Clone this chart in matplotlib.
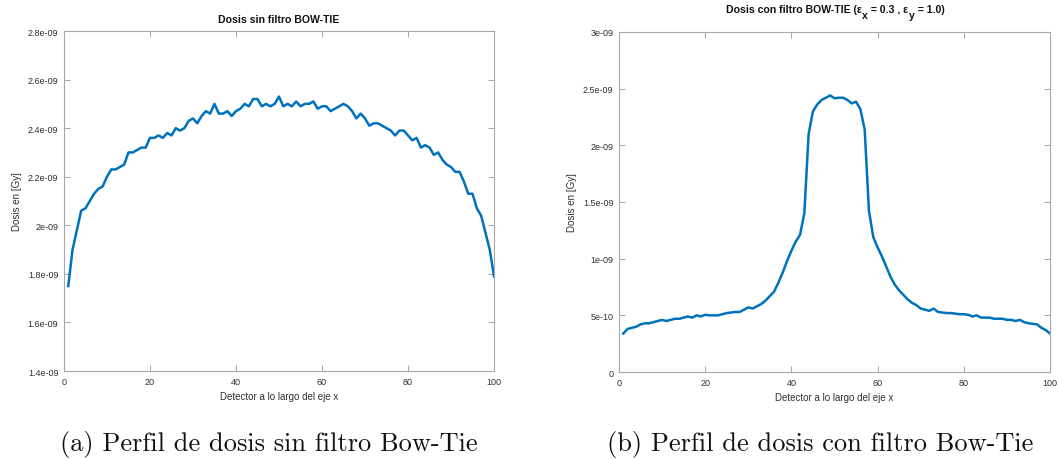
import matplotlib
matplotlib.use("Agg")
import matplotlib.pyplot as plt
import numpy as np

# detector positions 1..100
det = list(range(1, 101))

# dose without bow-tie filter, units of 1e-9 Gy
dose_sin = [1.75, 1.90, 1.98, 2.06, 2.07, 2.10, 2.13, 2.15, 2.16, 2.20,
            2.23, 2.23, 2.24, 2.25, 2.30, 2.30, 2.31, 2.32, 2.32, 2.36,
            2.36, 2.37, 2.36, 2.38, 2.37, 2.40, 2.39, 2.40, 2.43, 2.44,
            2.42, 2.45, 2.47, 2.46, 2.50, 2.46, 2.46, 2.47, 2.45, 2.47,
            2.48, 2.50, 2.49, 2.52, 2.52, 2.49, 2.50, 2.49, 2.50, 2.53,
            2.49, 2.50, 2.49, 2.51, 2.49, 2.50, 2.50, 2.51, 2.48, 2.49,
            2.49, 2.47, 2.48, 2.49, 2.50, 2.49, 2.47, 2.44, 2.46, 2.44,
            2.41, 2.42, 2.42, 2.41, 2.40, 2.39, 2.37, 2.39, 2.39, 2.37,
            2.35, 2.36, 2.32, 2.33, 2.32, 2.29, 2.30, 2.27, 2.25, 2.24,
            2.22, 2.22, 2.18, 2.13, 2.13, 2.07, 2.04, 1.97, 1.90, 1.79]

# dose with bow-tie filter, units of 1e-10 Gy
dose_con = [3.4, 3.8, 3.9, 4.0, 4.2, 4.3, 4.3, 4.4, 4.5, 4.6,
            4.5, 4.6, 4.7, 4.7, 4.8, 4.9, 4.8, 5.0, 4.9, 5.05,
            5.0, 5.0, 5.0, 5.1, 5.2, 5.25, 5.3, 5.3, 5.5, 5.7,
            5.6, 5.8, 6.0, 6.3, 6.7, 7.1, 7.9, 8.8, 9.8, 10.7,
            11.5, 12.1, 14.0, 21.0, 23.0, 23.6, 24.0, 24.2, 24.4, 24.15,
            24.2, 24.2, 24.0, 23.7, 23.85, 23.2, 21.4, 14.2, 11.9, 11.0,
            10.2, 9.3, 8.4, 7.7, 7.2, 6.8, 6.4, 6.1, 5.9, 5.6,
            5.5, 5.4, 5.6, 5.3, 5.25, 5.2, 5.2, 5.15, 5.1, 5.1,
            5.05, 4.9, 5.0, 4.8, 4.8, 4.8, 4.7, 4.7, 4.7, 4.6,
            4.6, 4.5, 4.6, 4.4, 4.3, 4.25, 4.2, 3.9, 3.7, 3.4]

xticks = [0, 20, 40, 60, 80, 100]
yticks_a = [1.4e-9, 1.6e-9, 1.8e-9, 2.0e-9, 2.2e-9, 2.4e-9, 2.6e-9, 2.8e-9]
ylabels_a = ["1.4e-09", "1.6e-09", "1.8e-09", "2e-09", "2.2e-09", "2.4e-09", "2.6e-09", "2.8e-09"]
yticks_b = [0, 5e-10, 1e-9, 1.5e-9, 2e-9, 2.5e-9, 3e-9]
ylabels_b = ["0", "5e-10", "1e-09", "1.5e-09", "2e-09", "2.5e-09", "3e-09"]

# title of panel b, split so the subscripts can be dropped like MATLAB's tex
title_b = [("Dosis con filtro BOW-TIE (ε", 0), ("x", -4.5), (" = 0.3 , ε", 0), ("y", -4.5), (" = 1.0)", 0)]

plt.rcParams["font.family"] = ["Liberation Sans", "DejaVu Sans"]

BLUE = "#0072BD"
SPINE = "#a8a8a8"
TXT = "#303030"
W, H = 1059, 460

fig = plt.figure(figsize=(W / 100, H / 100), dpi=100)
axa = fig.add_axes([0.0604, 0.1913, 0.4061, 0.7391])
axb = fig.add_axes([0.5845, 0.1891, 0.4070, 0.7392])

def style(ax):
    for s in ax.spines.values():
        s.set_color(SPINE); s.set_linewidth(0.8)
    ax.tick_params(direction="in", length=4, width=0.7, color=SPINE, labelcolor=TXT,
                   labelsize=6.5, top=True, right=True, pad=4)
    ax.set_xlim(0, 100); ax.set_xticks(xticks); ax.set_xticklabels([str(t) for t in xticks])
    ax.set_xlabel("Detector a lo largo del eje x", fontsize=7, color=TXT, labelpad=4)
    ax.set_ylabel("Dosis en [Gy]", fontsize=7, color=TXT, labelpad=4)

axa.plot(det, np.array(dose_sin) * 1e-9, color=BLUE, lw=1.8)
style(axa)
axa.set_ylim(1.4e-9, 2.8e-9)
axa.set_yticks(yticks_a); axa.set_yticklabels(ylabels_a)
tkw = dict(fontsize=7.6, fontweight="bold", color="#111111", va="baseline")
fig.text(279 / W, 1 - 23 / H, "Dosis sin filtro BOW-TIE", ha="center", **tkw)

axb.plot(det, np.array(dose_con) * 1e-10, color=BLUE, lw=1.8)
style(axb)
axb.set_ylim(0, 3e-9)
axb.set_yticks(yticks_b); axb.set_yticklabels(ylabels_b)

yb = 1 - 13 / H
prev = fig.text(726 / W, yb, title_b[0][0], ha="left", **tkw)
for s, dy in title_b[1:]:
    prev = fig.add_artist(matplotlib.text.Annotation(
        s, xy=(1, yb), xycoords=(prev, "figure fraction"), xytext=(0.3, dy),
        textcoords="offset points", ha="left", **tkw))

cap = dict(fontsize=19, family=["cmr10", "DejaVu Serif"], ha="center", va="baseline", color="#111111")
fig.text(269 / W, 1 - 451 / H, "(a) Perfil de dosis sin filtro Bow-Tie", **cap)
fig.text(820 / W, 1 - 451 / H, "(b) Perfil de dosis con filtro Bow-Tie", **cap)

fig.savefig("out.png", dpi=100)
